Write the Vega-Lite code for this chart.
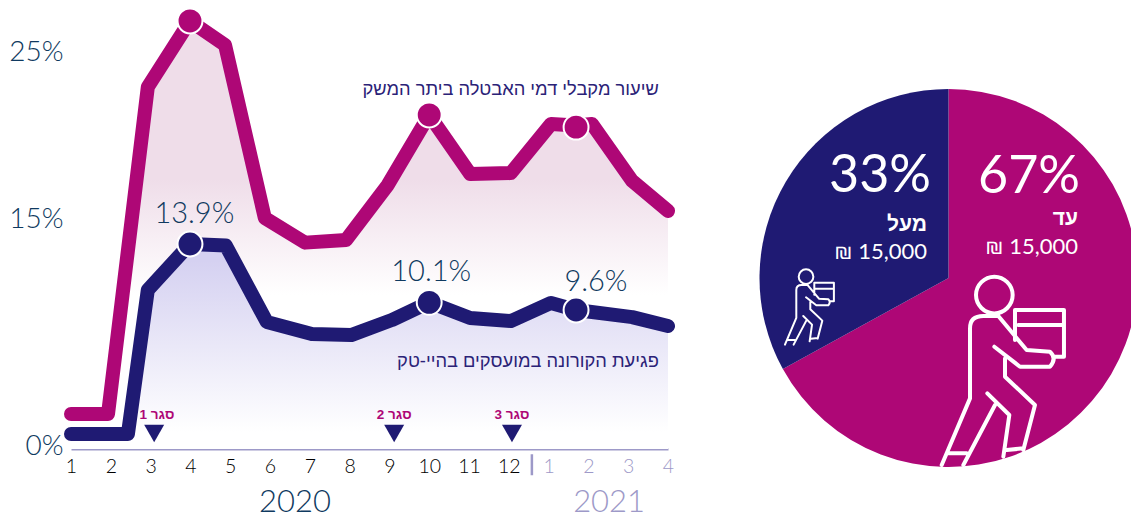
{
"$schema":"https://vega.github.io/schema/vega-lite/v6.json",
"padding":{"left":8,"top":0,"right":0,"bottom":0},
"background":"white",
"spacing":84,
"config":{"view":{"stroke":null},"font":"Lato","text":{"font":"Lato"}},
"datasets":{
"lines":[
{"series":"unemployment","month":1,"value":2.26},{"series":"unemployment","month":1.93,"value":2.26},{"series":"unemployment","month":2.93,"value":22.9},{"series":"unemployment","month":3.99,"value":26.85},{"series":"unemployment","month":4.87,"value":25.42},{"series":"unemployment","month":5.87,"value":15.06},{"series":"unemployment","month":6.88,"value":13.96},{"series":"unemployment","month":7.91,"value":14.08},{"series":"unemployment","month":8.96,"value":17.04},{"series":"unemployment","month":10,"value":21.23},{"series":"unemployment","month":11.03,"value":17.69},{"series":"unemployment","month":12.05,"value":17.75},{"series":"unemployment","month":13.06,"value":20.69},{"series":"unemployment","month":13.69,"value":20.6},{"series":"unemployment","month":14.09,"value":20.69},{"series":"unemployment","month":15.1,"value":17.28},{"series":"unemployment","month":16,"value":15.48},
{"series":"hitech","month":1,"value":0.85},{"series":"hitech","month":2.43,"value":0.85},{"series":"hitech","month":2.93,"value":10.9},{"series":"hitech","month":3.99,"value":13.9},{"series":"hitech","month":4.89,"value":13.8},{"series":"hitech","month":5.92,"value":8.75},{"series":"hitech","month":7.05,"value":7.9},{"series":"hitech","month":8.04,"value":7.83},{"series":"hitech","month":9.06,"value":8.89},{"series":"hitech","month":10,"value":10.1},{"series":"hitech","month":11.03,"value":9.03},{"series":"hitech","month":12.05,"value":8.82},{"series":"hitech","month":13.06,"value":10.06},{"series":"hitech","month":13.69,"value":9.6},{"series":"hitech","month":15.1,"value":9.1},{"series":"hitech","month":16,"value":8.47}
],
"dots":[
{"series":"unemployment","month":3.99,"value":26.85},{"series":"unemployment","month":10,"value":21.23},{"series":"unemployment","month":13.69,"value":20.5},
{"series":"hitech","month":3.99,"value":13.9},{"series":"hitech","month":10,"value":10.1},{"series":"hitech","month":13.69,"value":9.6}
]
},
"hconcat":[
{
"width":597,"height":449,
"data":{"name":"lines"},
"encoding":{
"x":{"field":"month","type":"quantitative","scale":{"domain":[1,16],"nice":false,"zero":false},
"axis":{"title":null,"values":[1,2,3,4,5,6,7,8,9,10,11,12,13,14,15,16],"labelExpr":"datum.value>12?datum.value-12:datum.value","grid":false,"ticks":false,"domainColor":"#9d99c8","domainWidth":2,"labelFontSize":19.5,"labelFont":"Lato","labelFontWeight":300,"labelPadding":8,"labelBaseline":"top","labelFlush":false,"labelOverlap":false,"labelColor":{"condition":{"test":"datum.value>12","value":"#9d99c8"},"value":"#000000"}}},
"y":{"field":"value","type":"quantitative","scale":{"type":"linear","domain":[-0.2,0,9.6,13.9,15,25,28.1],"range":[449,446,310,244,219,52,0],"nice":false,"zero":false},
"axis":{"title":null,"values":[0,15,25],"labelExpr":"datum.value+'%'","grid":false,"ticks":false,"domain":false,"labelFontSize":28,"labelFont":"Lato","labelFontWeight":300,"labelColor":"#0f3a60","labelPadding":8}}
},
"layer":[
{"transform":[{"filter":"datum.series==='unemployment'"}],
"mark":{"type":"area","color":{"gradient":"linear","x1":0,"x2":0,"y1":0,"y2":1,"stops":[{"offset":0,"color":"#efdde9"},{"offset":0.37,"color":"#efdde9"},{"offset":0.64,"color":"#ffffff"},{"offset":1,"color":"#ffffff"}]}},
"encoding":{"y2":{"datum":-0.2}}},
{"transform":[{"filter":"datum.series==='hitech'"}],
"mark":{"type":"area","color":{"gradient":"linear","x1":0,"x2":0,"y1":0,"y2":1,"stops":[{"offset":0,"color":"#d5d1f1"},{"offset":0.08,"color":"#d5d1f1"},{"offset":0.92,"color":"#ffffff"},{"offset":1,"color":"#ffffff"}]}},
"encoding":{"y2":{"datum":-0.2}}},
{"mark":{"type":"line","strokeWidth":14,"strokeCap":"round","strokeJoin":"round"},
"encoding":{"color":{"field":"series","type":"nominal","scale":{"domain":["unemployment","hitech"],"range":["#ae0776","#1f1a73"]},"legend":null},"detail":{"field":"series"}}},
{"data":{"name":"dots"},
"mark":{"type":"point","filled":true,"size":620,"strokeWidth":2,"opacity":1},
"encoding":{"fill":{"field":"series","type":"nominal","scale":{"domain":["unemployment","hitech"],"range":["#ae0776","#1f1a73"]},"legend":null},"stroke":{"value":"#ffffff"}}},
{"data":{"values":[{"label":"13.9%","month":4.1,"value":15.3},{"label":"10.1%","month":10.05,"value":12.08},{"label":"9.6%","month":14.19,"value":11.42}]},
"mark":{"type":"text","fontSize":29,"fontWeight":300,"color":"#0f3a60","baseline":"middle"},
"encoding":{"text":{"field":"label"}}},
{"data":{"values":[{"label":"שיעור מקבלי דמי האבטלה ביתר המשק","month":15.77,"value":22.72},{"label":"פגיעת הקורונה במועסקים בהיי-טק","month":15.77,"value":5.95}]},
"mark":{"type":"text","font":"Liberation Sans","fontSize":18.3,"color":"#2b2277","align":"right","baseline":"middle"},
"encoding":{"text":{"field":"label"}}},
{"data":{"values":[{"closure":1,"month":3.09,"value":0.88},{"closure":2,"month":9.12,"value":0.88},{"closure":3,"month":12.08,"value":0.88}]},
"mark":{"type":"point","shape":"triangle-down","filled":true,"size":400,"color":"#1f1a73","opacity":1}},
{"data":{"values":[{"label":"1 סגר","month":3.16,"value":2.19},{"label":"2 סגר","month":9.12,"value":2.19},{"label":"3 סגר","month":12.08,"value":2.19}]},
"mark":{"type":"text","font":"Liberation Sans","fontWeight":"bold","fontSize":13.5,"color":"#ae0776","baseline":"middle"},
"encoding":{"text":{"field":"label"}}},
{"data":{"values":[{"month":12.58,"value":-0.55,"value2":-1.95}]},
"mark":{"type":"rule","color":"#9d99c8","strokeWidth":2.5},
"encoding":{"y2":{"field":"value2"}}},
{"data":{"values":[{"label":"2020","month":6.63,"value":-3.83,"color":"#0f3a60"},{"label":"2021","month":14.52,"value":-3.83,"color":"#9d99c8"}]},
"mark":{"type":"text","fontSize":31,"fontWeight":300,"baseline":"middle"},
"encoding":{"text":{"field":"label"},"color":{"field":"color","type":"nominal","scale":null}}}
]
},
{
"width":372,"height":520,
"encoding":{
"x":{"datum":189.5,"type":"quantitative","scale":{"domain":[0,372],"nice":false,"zero":false},"axis":null},
"y":{"datum":278,"type":"quantitative","scale":{"domain":[520,0],"nice":false,"zero":false},"axis":null}
},
"layer":[
{"data":{"values":[{"group":"עד 15,000","share":67,"rank":1},{"group":"מעל 15,000","share":33,"rank":2}]},
"mark":{"type":"arc","radius":189},
"encoding":{"theta":{"field":"share","type":"quantitative","stack":true},"order":{"field":"rank"},"color":{"field":"group","type":"nominal","scale":{"domain":["עד 15,000","מעל 15,000"],"range":["#ae0776","#1f1a73"]},"legend":null}}},
{"data":{"values":[{"t":"67%"}]},"mark":{"type":"text","fontSize":52,"color":"#ffffff","align":"right","baseline":"middle"},"encoding":{"text":{"field":"t"},"x":{"datum":321},"y":{"datum":177}}},
{"data":{"values":[{"t":"33%"}]},"mark":{"type":"text","fontSize":52,"color":"#ffffff","align":"right","baseline":"middle"},"encoding":{"text":{"field":"t"},"x":{"datum":172},"y":{"datum":176}}},
{"data":{"values":[{"t":"עד"}]},"mark":{"type":"text","font":"Liberation Sans","fontSize":21,"fontWeight":"bold","color":"#ffffff","align":"right","baseline":"middle"},"encoding":{"text":{"field":"t"},"x":{"datum":319},"y":{"datum":219}}},
{"data":{"values":[{"t":"מעל"}]},"mark":{"type":"text","font":"Liberation Sans","fontSize":21,"fontWeight":"bold","color":"#ffffff","align":"right","baseline":"middle"},"encoding":{"text":{"field":"t"},"x":{"datum":168},"y":{"datum":225}}},
{"data":{"values":[{"t":"₪ 15,000"}]},"mark":{"type":"text","font":"Lato, DejaVu Sans","fontSize":22,"color":"#ffffff","align":"right","baseline":"middle"},"encoding":{"text":{"field":"t"},"x":{"datum":319},"y":{"datum":247}}},
{"data":{"values":[{"t":"₪ 15,000"}]},"mark":{"type":"text","font":"Lato, DejaVu Sans","fontSize":22,"color":"#ffffff","align":"right","baseline":"middle"},"encoding":{"text":{"field":"t"},"x":{"datum":168},"y":{"datum":252}}},
{"data":{"values":[{"icon":"large"}]},"mark":{"type":"point","shape":"M38,-275 C38,-245 13,-220 -17,-220 C-47,-220 -72,-245 -72,-275 C-72,-305 -47,-330 -17,-330 C13,-330 38,-305 38,-275 Z M-175,235 L-90,35 L-90,-175 Q-90,-212 -50,-212 L-5,-212 L80,-110 L150,-105 Q172,-85 150,-60 L60,-60 L-17,-120 M45,-230 L192,-230 L192,-90 L165,-90 M45,-230 L45,-140 M55,-185 L192,-185 M15,-85 L15,-30 L105,55 L70,190 M-38,20 L28,85 L10,210 M-15,55 L-110,235 M-160,200 L-100,200 M20,190 L70,185","size":0.444,"filled":false,"color":"#ffffff","strokeWidth":4,"opacity":1,"strokeCap":"round","strokeJoin":"round"},"encoding":{"x":{"datum":241},"y":{"datum":386.7}}},
{"data":{"values":[{"icon":"small"}]},"mark":{"type":"point","shape":"M38,-275 C38,-245 13,-220 -17,-220 C-47,-220 -72,-245 -72,-275 C-72,-305 -47,-330 -17,-330 C13,-330 38,-305 38,-275 Z M-175,235 L-90,35 L-90,-175 Q-90,-212 -50,-212 L-5,-212 L80,-110 L150,-105 Q172,-85 150,-60 L60,-60 L-17,-120 M45,-230 L192,-230 L192,-90 L165,-90 M45,-230 L45,-140 M55,-185 L192,-185 M15,-85 L15,-30 L105,55 L70,190 M-38,20 L28,85 L10,210 M-15,55 L-110,235 M-160,200 L-100,200 M20,190 L70,185","size":0.0711,"filled":false,"color":"#ffffff","strokeWidth":2,"opacity":1,"strokeCap":"round","strokeJoin":"round"},"encoding":{"x":{"datum":49.3},"y":{"datum":313.3}}}
]
}
]
}
